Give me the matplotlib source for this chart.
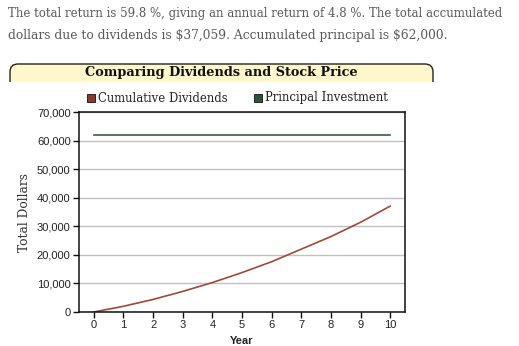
import numpy as np
import matplotlib
matplotlib.use("Agg")
import matplotlib.pyplot as plt
from matplotlib.patches import PathPatch, Rectangle
from matplotlib.path import Path
from matplotlib.ticker import FuncFormatter

years = [0, 1, 2, 3, 4, 5, 6, 7, 8, 9, 10]
dividends = [0, 2000, 4400, 7200, 10300, 13800, 17600, 22000, 26400, 31400, 37059]
principal = [62000] * len(years)

serif = ["DejaVu Serif"]
sans = ["Liberation Sans", "DejaVu Sans"]

fig = plt.figure(figsize=(5.19, 3.46), dpi=100)
W, H = 519, 346

def fx(px):
    return px / W

def fy(py):
    return 1 - py / H

# summary text
fig.text(fx(8), fy(14), "The total return is 59.8 %, giving an annual return of 4.8 %. The total accumulated",
         family=serif, fontsize=8.5, color="#5a5a5a", va="center")
fig.text(fx(8), fy(36), "dollars due to dividends is \\$37,059. Accumulated principal is \\$62,000.",
         family=serif, fontsize=8.8, color="#5a5a5a", va="center")

# title box: open at the bottom, rounded top corners
r = 8
x0, x1, yt, yb = 10, 433, 64, 82
fill = Rectangle((fx(x0), fy(yb)), fx(x1 - x0), fy(yt) - fy(yb), transform=fig.transFigure,
                 facecolor="#fff7cc", edgecolor="none")
fig.patches.append(fill)
verts = [(x0, yb), (x0, yt + r), (x0, yt), (x0 + r, yt), (x1 - r, yt), (x1, yt), (x1, yt + r), (x1, yb)]
codes = [Path.MOVETO, Path.LINETO, Path.CURVE3, Path.CURVE3, Path.LINETO, Path.CURVE3, Path.CURVE3, Path.LINETO]
verts = [(fx(a), fy(b)) for a, b in verts]
fig.patches.append(PathPatch(Path(verts, codes), transform=fig.transFigure,
                             facecolor="none", edgecolor="#222222", linewidth=1.0))
fig.text(fx(221), fy(72.5), "Comparing Dividends and Stock Price", family=serif,
         fontsize=9.3, fontweight="bold", color="#111111", ha="center", va="center")

# legend
for lx, label, col in [(87, "Cumulative Dividends", "#8b3a2a"), (254, "Principal Investment", "#2e5338")]:
    fig.patches.append(Rectangle((fx(lx), fy(102)), fx(8), fy(94) - fy(102),
                                 transform=fig.transFigure, facecolor=col,
                                 edgecolor="#111111", linewidth=0.6))
    fig.text(fx(lx + 11), fy(98), label, family=serif, fontsize=8.4, color="#222222", va="center")

ax = fig.add_axes([fx(79), fy(312), fx(405) - fx(79), fy(112) - fy(312)])
ax.plot(years, principal, color="#3d5a48", linewidth=1.2)
ax.plot(years, dividends, color="#a0483a", linewidth=1.2)

ax.set_xlim(-0.5, 10.5)
ax.set_ylim(0, 70000)
ax.set_xticks(years)
ax.set_yticks(range(0, 70001, 10000))
ax.yaxis.set_major_formatter(FuncFormatter(lambda v, p: f"{int(v):,}"))
ax.grid(axis="y", color="#c0c0c0", linewidth=1)
ax.set_axisbelow(True)
for s in ax.spines.values():
    s.set_color("#111111")
    s.set_linewidth(1.1)
ax.tick_params(direction="out", length=4, width=1, color="#111111",
               labelsize=8, labelcolor="#222222", pad=2)
for lab in ax.get_xticklabels() + ax.get_yticklabels():
    lab.set_family(sans)

ax.set_xlabel("Year", family=sans, fontsize=8, fontweight="bold", color="#222222", labelpad=4)
ax.set_ylabel("Total Dollars", family=serif, fontsize=8.8, color="#333333", labelpad=4)

fig.savefig("out.png", dpi=100)
